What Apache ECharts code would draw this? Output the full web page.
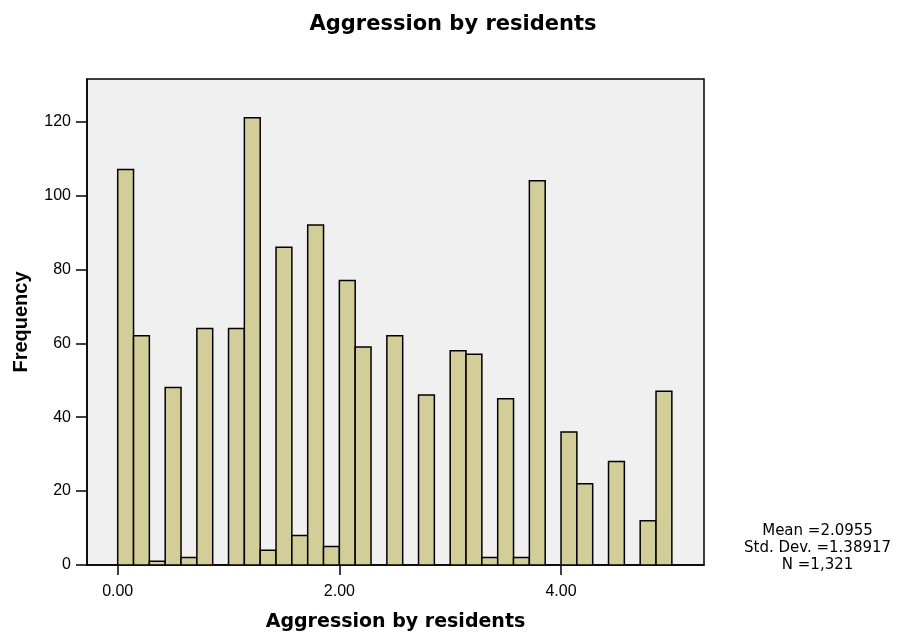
<!DOCTYPE html>
<html>
<head>
<meta charset="utf-8">
<script src="https://cdn.jsdelivr.net/npm/echarts@6/dist/echarts.min.js"></script>
<style>html,body{margin:0;padding:0;background:#fff}#c{width:906px;height:635px}</style>
</head>
<body>
<div id="c"></div>
<script>
// Histogram data (bins of width 1/7 starting at 0.00)
const binStart = 0;
const binWidth = 1 / 7;
const frequencies = [107, 62, 1, 48, 2, 64, 0, 64, 121, 4, 86, 8, 92, 5, 77, 59, 0, 62, 0, 46, 0, 58, 57, 2, 45, 2, 104, 0, 36, 22, 0, 28, 0, 12, 47];
const xTickValues = [0, 2, 4];
const yTickValues = [0, 20, 40, 60, 80, 100, 120];
const statsLines = ['Mean =2.0955', 'Std. Dev. =1.38917', 'N =1,321'];
const chartTitle = 'Aggression by residents';
const xTitle = 'Aggression by residents';
const yTitle = 'Frequency';

const barData = frequencies.map((f, i) => [binStart + i * binWidth, binStart + (i + 1) * binWidth, f]);

const chart = echarts.init(document.getElementById('c'), null, {renderer: 'canvas'});
chart.setOption({
  animation: false,
  backgroundColor: '#ffffff',
  title: {
    text: chartTitle,
    left: 'center',
    top: 9,
    textStyle: {fontFamily: 'DejaVu Sans', fontWeight: 'bold', fontSize: 21, color: '#000'}
  },
  grid: {
    left: 87, right: 202, top: 79, bottom: 70,
    outerBoundsMode: 'none',
    containLabel: false,
    show: true, backgroundColor: '#F0F0F0', borderColor: '#000', borderWidth: 1.5
  },
  xAxis: {
    type: 'value',
    min: -0.277, max: 5.29,
    name: xTitle,
    nameLocation: 'middle',
    nameGap: 48,
    nameTextStyle: {fontFamily: 'DejaVu Sans', fontWeight: 'bold', fontSize: 19, color: '#000'},
    axisLine: {show: true, onZero: false, lineStyle: {color: '#000', width: 1.5}},
    axisTick: {show: true, customValues: xTickValues, length: 10, inside: false, lineStyle: {color: '#000', width: 1.5}},
    axisLabel: {customValues: xTickValues, formatter: v => v.toFixed(2), margin: 19, fontFamily: 'Liberation Sans', fontSize: 16, color: '#000'},
    splitLine: {show: false}
  },
  yAxis: {
    type: 'value',
    min: 0, max: 131.5,
    name: yTitle,
    nameLocation: 'middle',
    nameGap: 56,
    nameTextStyle: {fontFamily: 'Liberation Sans', fontWeight: 'bold', fontSize: 20, color: '#000'},
    axisLine: {show: true, onZero: false, lineStyle: {color: '#000', width: 1.5}},
    axisTick: {show: true, customValues: yTickValues, length: 11, inside: false, lineStyle: {color: '#000', width: 1.5}},
    axisLabel: {customValues: yTickValues, margin: 16, fontFamily: 'Liberation Sans', fontSize: 16, color: '#000'},
    splitLine: {show: false}
  },
  series: [{
    type: 'custom',
    clip: true,
    data: barData,
    encode: {x: [0, 1], y: 2},
    renderItem: function (params, api) {
      const x0 = api.value(0), x1 = api.value(1), v = api.value(2);
      if (!v) return null;
      const p0 = api.coord([x0, 0]);
      const p1 = api.coord([x1, v]);
      return {
        type: 'rect',
        shape: {x: p0[0], y: p1[1], width: p1[0] - p0[0], height: p0[1] - p1[1]},
        style: {fill: '#D3CE98', stroke: '#000', lineWidth: 1.5}
      };
    }
  }],
  graphic: [{
    type: 'text',
    left: 824 - 80, top: 523,
    style: {
      text: statsLines.join('\n'),
      x: 80,
      textAlign: 'center',
      fontFamily: 'DejaVu Sans', fontSize: 15, lineHeight: 17, fill: '#000'
    }
  }]
});
</script>
</body>
</html>
